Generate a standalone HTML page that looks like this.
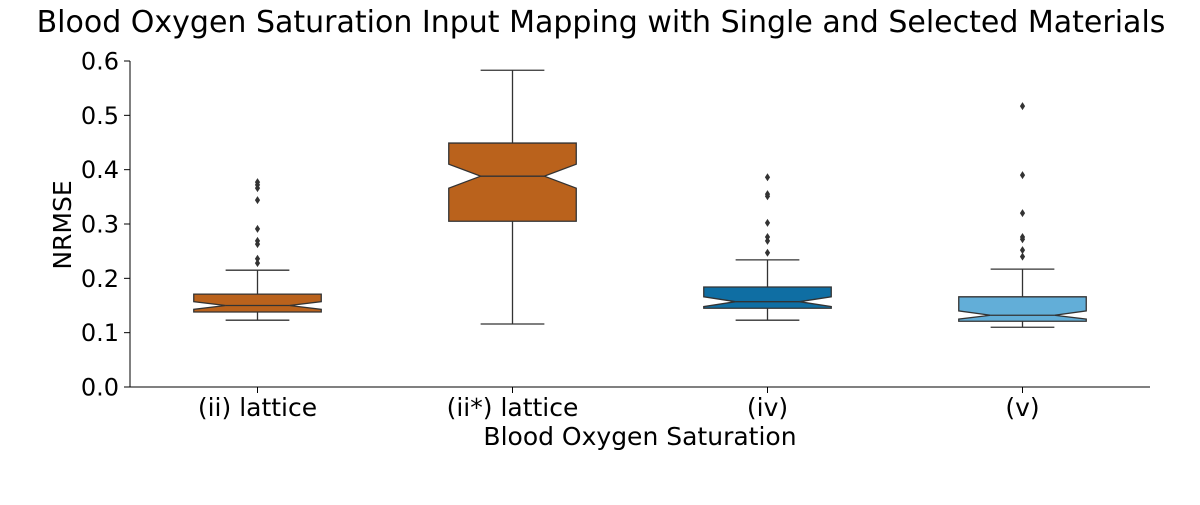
<!DOCTYPE html>
<html><head><meta charset="utf-8"><style>
body{margin:0;background:#fff;}
svg text{font-family:"DejaVu Sans","Liberation Sans",sans-serif;fill:#000;}
</style></head><body>
<svg id="chart" width="1200" height="500">
<text x="601" y="32" font-size="30" text-anchor="middle">Blood Oxygen Saturation Input Mapping with Single and Selected Materials</text>
<g id="axes"></g>
<g id="marks"></g>
</svg>
<script>
const categories = ["(ii) lattice","(ii*) lattice","(iv)","(v)"];
const whiskerLow = [0.123,0.116,0.123,0.110];
const q1 = [0.138,0.305,0.145,0.121];
const notchLow = [0.143,0.366,0.148,0.125];
const median = [0.150,0.388,0.157,0.132];
const notchHigh = [0.157,0.410,0.166,0.140];
const q3 = [0.171,0.449,0.184,0.166];
const whiskerHigh = [0.215,0.583,0.234,0.217];
const outliers = [
  [0.377,0.372,0.366,0.344,0.291,0.269,0.263,0.236,0.228],
  [],
  [0.386,0.355,0.351,0.302,0.276,0.269,0.247],
  [0.517,0.390,0.320,0.276,0.272,0.252,0.240]
];
const colors = ["#ba621c","#ba621c","#0f6ea3","#62aed8"];
const yTicks = [0,0.1,0.2,0.3,0.4,0.5,0.6];
const yTickLabels = ["0.0","0.1","0.2","0.3","0.4","0.5","0.6"];

const NS="http://www.w3.org/2000/svg";
const L=130,R=1150,T=61,B=387,yMax=0.6;
const y=v=>B-(v/yMax)*(B-T);
const step=(R-L)/categories.length;
const x=i=>L+step*(i+0.5);
const bw=step*0.5;
function mk(tag,attrs,parent){const e=document.createElementNS(NS,tag);for(const k in attrs)e.setAttribute(k,attrs[k]);parent.appendChild(e);return e;}
const axes=document.getElementById('axes'),marks=document.getElementById('marks');

let a=mk('line',{x1:L,y1:T,x2:L,y2:B,stroke:'#000','stroke-width':1},axes);


a=mk('line',{x1:L,y1:B,x2:R,y2:B,stroke:'#000','stroke-width':1},axes);


yTicks.forEach((v,i)=>{
  const t=mk('line',{x1:L-6,y1:y(v),x2:L,y2:y(v),stroke:'#000'},axes);
  
  
  const tx=mk('text',{x:L-11,y:y(v)+8.5,'font-size':24,'text-anchor':'end'},axes);
  tx.textContent=yTickLabels[i];
  
  
});
categories.forEach((c,i)=>{
  const t=mk('line',{x1:x(i),y1:B,x2:x(i),y2:B+6,stroke:'#000'},axes);
  
  
  const tx=mk('text',{x:x(i),y:B+29,'font-size':25,'text-anchor':'middle'},axes);
  tx.textContent=c;
  
  
});
let tt=mk('text',{x:640,y:445,'font-size':25,'text-anchor':'middle'},axes);
tt.textContent='Blood Oxygen Saturation';


tt=mk('text',{x:0,y:0,'font-size':25,'text-anchor':'middle',transform:'translate(71,225) rotate(-90)'},axes);
tt.textContent='NRMSE';



categories.forEach((c,i)=>{
  const cx=x(i),l=cx-bw/2,r=cx+bw/2,ins=bw/4,st='#333';
  const w1=mk('line',{x1:cx,y1:y(whiskerLow[i]),x2:cx,y2:y(q1[i]),stroke:st,'stroke-width':1.3},marks);
  
  
  const w2=mk('line',{x1:cx,y1:y(q3[i]),x2:cx,y2:y(whiskerHigh[i]),stroke:st,'stroke-width':1.3},marks);
  
  
  [whiskerLow[i],whiskerHigh[i]].forEach(v=>{
    const cap=mk('line',{x1:cx-bw/4,y1:y(v),x2:cx+bw/4,y2:y(v),stroke:st,'stroke-width':1.3},marks);
    
    
  });
  const pts=[[l,q1[i]],[l,notchLow[i]],[l+ins,median[i]],[l,notchHigh[i]],[l,q3[i]],[r,q3[i]],[r,notchHigh[i]],[r-ins,median[i]],[r,notchLow[i]],[r,q1[i]]];
  const box=mk('polygon',{points:pts.map(p=>p[0]+','+y(p[1])).join(' '),fill:colors[i],stroke:st,'stroke-width':1.3},marks);
  
  
  const md=mk('line',{x1:l+ins,y1:y(median[i]),x2:r-ins,y2:y(median[i]),stroke:st,'stroke-width':1.3},marks);
  
  
  outliers[i].forEach(v=>{
    const o=mk('path',{d:`M${cx},${y(v)-4} L${cx+2.6},${y(v)} L${cx},${y(v)+4} L${cx-2.6},${y(v)} Z`,fill:'#333'},marks);
    
    
  });
});
</script>
</body></html>
